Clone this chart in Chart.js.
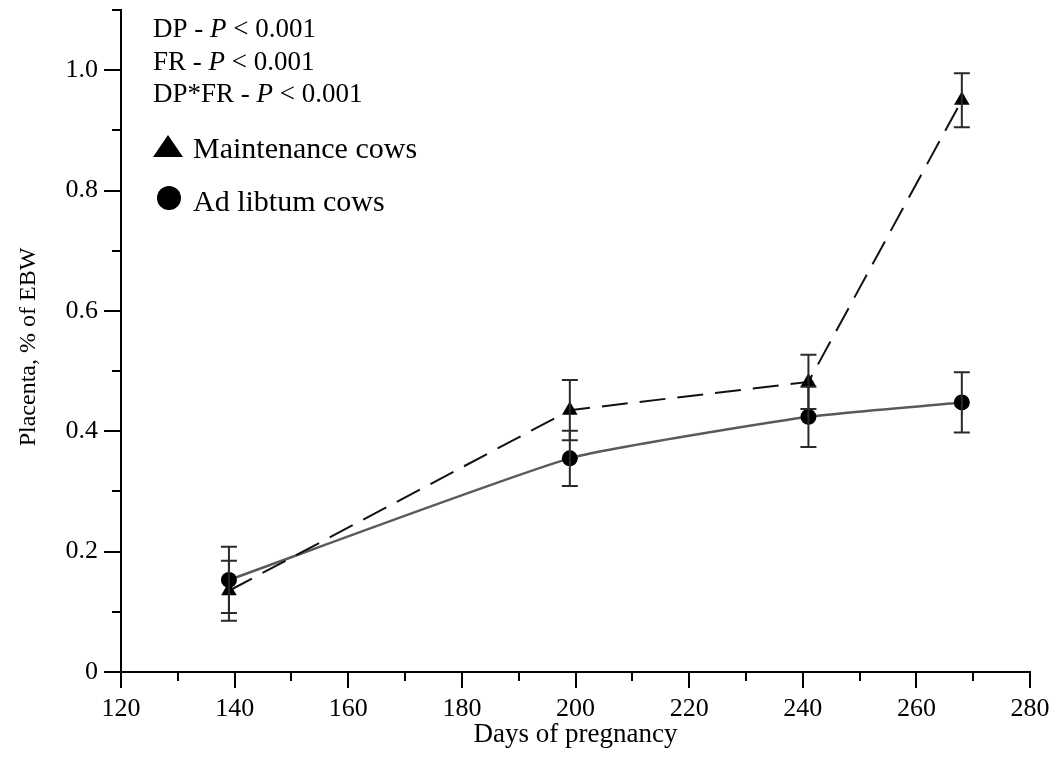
<!DOCTYPE html>
<html><head><meta charset="utf-8">
<script src="https://cdn.jsdelivr.net/npm/chart.js@4.4.1/dist/chart.umd.min.js"></script>
<style>html,body{margin:0;padding:0;background:#fff;}#wrap{width:1057px;height:758px;}</style>
</head><body><div id="wrap"><canvas id="c" width="1057" height="758"></canvas></div>
<script>
// ---- data ----
const days = [139, 199, 241, 268];
const maintenance = [0.135, 0.435, 0.482, 0.950];
const maintenanceErr = [0.050, 0.050, 0.045, 0.045];
const adLibitum = [0.153, 0.355, 0.424, 0.448];
const adLibitumErr = [0.055, 0.046, 0.050, 0.050];
const seriesNames = ['Maintenance cows', 'Ad libtum cows'];
const xTitle = 'Days of pregnancy';
const yTitle = 'Placenta, % of EBW';
const statLines = [['DP - ', 'P', ' < 0.001'], ['FR - ', 'P', ' < 0.001'], ['DP*FR - ', 'P', ' < 0.001']];
const yLabels = {0: '0', 2: '0.2', 4: '0.4', 6: '0.6', 8: '0.8', 10: '1.0'};

const FONT = '"Liberation Serif", "Times New Roman", serif';

const toPts = (ys) => days.map((d, i) => ({x: d, y: ys[i]}));

const extras = {
  id: 'extras',
  afterDatasetsDraw(chart) {
    const ctx = chart.ctx, xs = chart.scales.x, ys = chart.scales.y;
    ctx.save();
    // error bars
    ctx.strokeStyle = '#2a2a2a';
    ctx.lineWidth = 2;
    const errs = [[maintenance, maintenanceErr], [adLibitum, adLibitumErr]];
    errs.forEach(([vals, e]) => {
      days.forEach((d, i) => {
        const px = xs.getPixelForValue(d);
        const top = ys.getPixelForValue(vals[i] + e[i]);
        const bot = ys.getPixelForValue(vals[i] - e[i]);
        ctx.beginPath();
        ctx.moveTo(px, top); ctx.lineTo(px, bot);
        ctx.moveTo(px - 8, top); ctx.lineTo(px + 8, top);
        ctx.moveTo(px - 8, bot); ctx.lineTo(px + 8, bot);
        ctx.stroke();
      });
    });
    // tick marks
    ctx.strokeStyle = '#000';
    ctx.lineWidth = 2;
    const ca = chart.chartArea;
    for (let i = 0; i <= 11; i++) {
      const py = Math.round(ys.getPixelForValue(i / 10));
      const len = i % 2 === 0 ? 17 : 9;
      ctx.beginPath(); ctx.moveTo(ca.left - len, py); ctx.lineTo(ca.left, py); ctx.stroke();
    }
    for (let v = 120; v <= 280; v += 10) {
      const px = Math.round(xs.getPixelForValue(v));
      const len = v % 20 === 0 ? 16 : 9;
      ctx.beginPath(); ctx.moveTo(px, ca.bottom); ctx.lineTo(px, ca.bottom + len); ctx.stroke();
    }
    // statistics text
    ctx.fillStyle = '#000';
    ctx.textBaseline = 'alphabetic';
    ctx.textAlign = 'left';
    const baseX = 153;
    statLines.forEach((parts, k) => {
      let x = baseX;
      const y = 37 + k * 32.5;
      parts.forEach((p, j) => {
        ctx.font = (j === 1 ? 'italic ' : '') + '27px ' + FONT;
        ctx.fillText(p, x, y);
        x += ctx.measureText(p).width;
      });
    });
    // legend
    ctx.font = '30px ' + FONT;
    ctx.beginPath();
    ctx.moveTo(153, 157); ctx.lineTo(183, 157); ctx.lineTo(168, 135); ctx.closePath();
    ctx.fill();
    ctx.fillText(seriesNames[0], 193, 158);
    ctx.beginPath(); ctx.arc(169, 198, 12, 0, Math.PI * 2); ctx.fill();
    ctx.fillText(seriesNames[1], 193, 211);
    ctx.restore();
  }
};

new Chart(document.getElementById('c'), {
  type: 'line',
  data: {
    datasets: [
      {
        label: seriesNames[0],
        data: toPts(maintenance),
        borderColor: '#111',
        borderWidth: 2,
        borderDash: [26, 12],
        pointStyle: 'triangle',
        pointRadius: 9,
        pointBackgroundColor: '#000',
        pointBorderColor: '#000',
        pointBorderWidth: 0,
        tension: 0
      },
      {
        label: seriesNames[1],
        data: toPts(adLibitum),
        borderColor: '#5a5a5a',
        borderWidth: 2.5,
        pointStyle: 'circle',
        pointRadius: 8,
        pointBackgroundColor: '#000',
        pointBorderColor: '#000',
        pointBorderWidth: 0,
        tension: 0.15
      }
    ]
  },
  options: {
    responsive: false,
    animation: false,
    layout: {padding: {left: 0, top: 10, right: 27, bottom: 0}},
    plugins: {legend: {display: false}, tooltip: {enabled: false}},
    scales: {
      x: {
        type: 'linear', min: 120, max: 280,
        grid: {display: false, drawTicks: false},
        border: {display: true, color: '#000', width: 2},
        ticks: {stepSize: 20, color: '#000', padding: 22, maxRotation: 0,
                font: {family: FONT, size: 26}},
        title: {display: true, text: xTitle, color: '#000', font: {family: FONT, size: 27},
                padding: {top: 0, bottom: 7}},
        afterFit(s) { s.height = 86; s.paddingLeft = 0; s.paddingRight = 0; }
      },
      y: {
        min: 0, max: 1.1,
        grid: {display: false, drawTicks: false},
        border: {display: true, color: '#000', width: 2},
        ticks: {stepSize: 0.1, color: '#000', padding: 23,
                font: {family: FONT, size: 26},
                callback: (v) => { const k = Math.round(v * 10); return yLabels[k] !== undefined ? yLabels[k] : null; }},
        title: {display: true, text: yTitle + '  ', color: '#000', font: {family: FONT, size: 24},
                padding: {top: 14, bottom: 0}},
        afterFit(s) { s.width = 121; s.paddingTop = 0; s.paddingBottom = 0; }
      }
    }
  },
  plugins: [extras]
});
</script></body></html>
